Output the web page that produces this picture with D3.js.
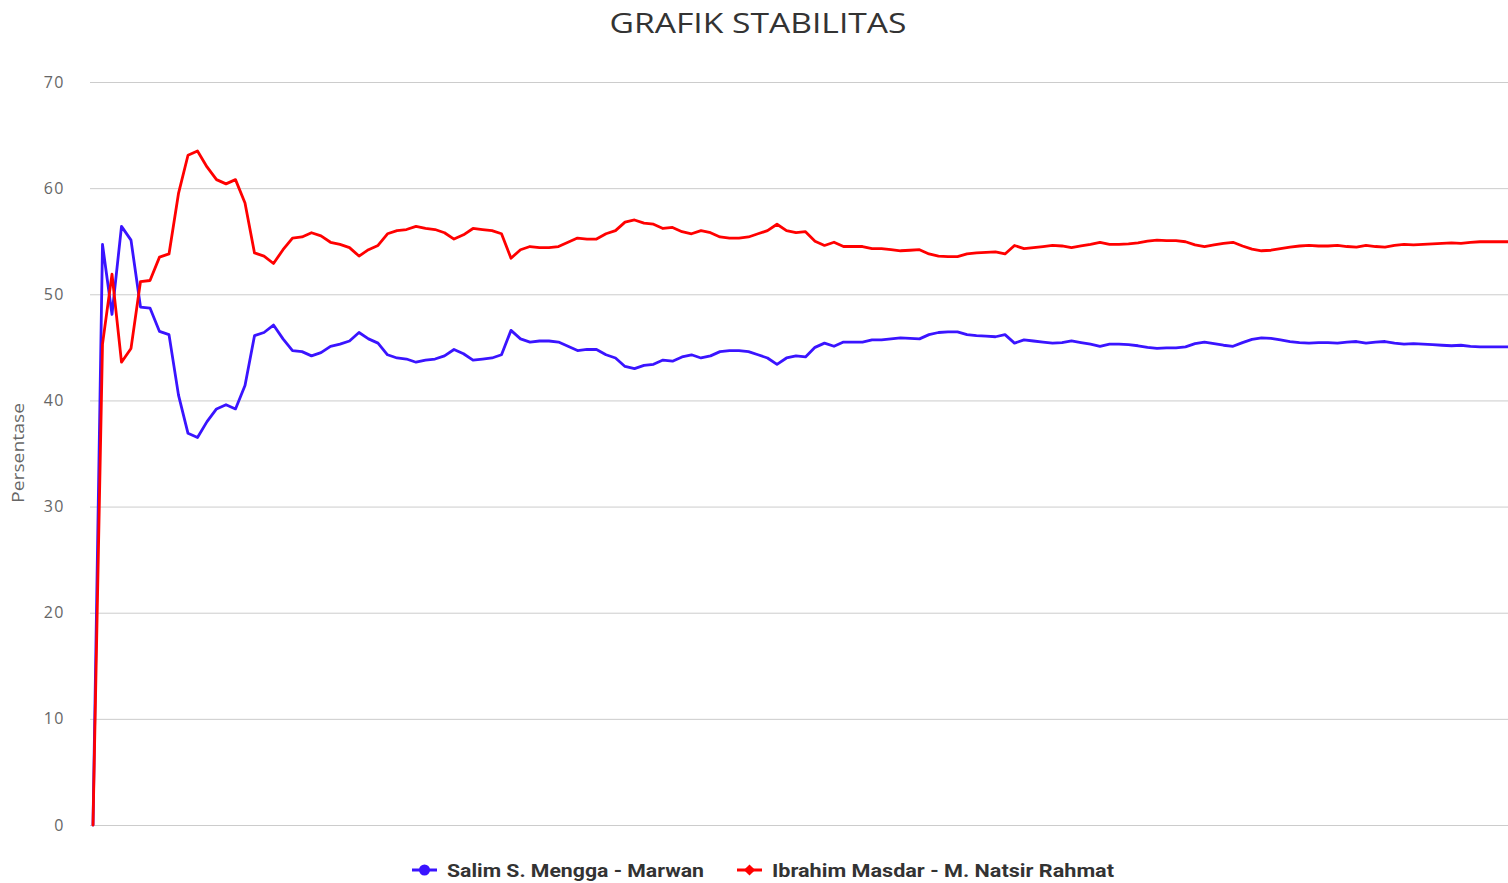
<!DOCTYPE html>
<html>
<head>
<meta charset="utf-8">
<script src="https://cdnjs.cloudflare.com/ajax/libs/d3/7.8.5/d3.min.js"></script>
<style>
  body { margin: 0; background: #fff; }
  svg { display: block; }
</style>
</head>
<body>
<div id="chart"></div>
<script>
// Chart values
const title = "GRAFIK STABILITAS";
const yLabel = "Persentase";
const yTicks = [0, 10, 20, 30, 40, 50, 60, 70];
const seriesNames = ["Salim S. Mengga - Marwan", "Ibrahim Masdar - M. Natsir Rahmat"];

const salim = [0, 54.7, 48.1, 56.4, 55.1, 48.8, 48.7, 46.5, 46.2, 40.5,
  36.9, 36.5, 38.0, 39.2, 39.6, 39.2, 41.4, 46.1, 46.4, 47.1,
  45.8, 44.7, 44.6, 44.2, 44.5, 45.1, 45.3, 45.6, 46.4, 45.8,
  45.4, 44.3, 44.0, 43.9, 43.6, 43.8, 43.9, 44.2, 44.8, 44.4,
  43.8, 43.9, 44.0, 44.3, 46.6, 45.8, 45.5, 45.6, 45.6, 45.5,
  45.1, 44.7, 44.8, 44.8, 44.3, 44.0, 43.2, 43.0, 43.3, 43.4,
  43.8, 43.7, 44.1, 44.3, 44.0, 44.2, 44.6, 44.7, 44.7, 44.6,
  44.3, 44.0, 43.4, 44.0, 44.2, 44.1, 45.0, 45.4, 45.1, 45.5,
  45.5, 45.5, 45.7, 45.7, 45.8, 45.9, 45.85, 45.8, 46.2, 46.4,
  46.45, 46.45, 46.2, 46.1, 46.05, 46.0, 46.2, 45.4, 45.7, 45.6,
  45.5, 45.4, 45.45, 45.6, 45.45, 45.3, 45.1, 45.3, 45.3, 45.25,
  45.15, 45.0, 44.9, 44.95, 44.95, 45.05, 45.35, 45.5, 45.35, 45.2,
  45.1, 45.45, 45.75, 45.9, 45.85, 45.7, 45.55, 45.45, 45.4, 45.45,
  45.45, 45.4, 45.5, 45.55, 45.4, 45.5, 45.55, 45.4, 45.3, 45.35,
  45.3, 45.25, 45.2, 45.15, 45.2, 45.1, 45.05, 45.05, 45.05, 45.05];

const ibrahim = [0, 45.3, 51.9, 43.6, 44.9, 51.2, 51.3, 53.5, 53.8, 59.5,
  63.1, 63.5, 62.0, 60.8, 60.4, 60.8, 58.6, 53.9, 53.6, 52.9,
  54.2, 55.3, 55.4, 55.8, 55.5, 54.9, 54.7, 54.4, 53.6, 54.2,
  54.6, 55.7, 56.0, 56.1, 56.4, 56.2, 56.1, 55.8, 55.2, 55.6,
  56.2, 56.1, 56.0, 55.7, 53.4, 54.2, 54.5, 54.4, 54.4, 54.5,
  54.9, 55.3, 55.2, 55.2, 55.7, 56.0, 56.8, 57.0, 56.7, 56.6,
  56.2, 56.3, 55.9, 55.7, 56.0, 55.8, 55.4, 55.3, 55.3, 55.4,
  55.7, 56.0, 56.6, 56.0, 55.8, 55.9, 55.0, 54.6, 54.9, 54.5,
  54.5, 54.5, 54.3, 54.3, 54.2, 54.1, 54.15, 54.2, 53.8, 53.6,
  53.55, 53.55, 53.8, 53.9, 53.95, 54.0, 53.8, 54.6, 54.3, 54.4,
  54.5, 54.6, 54.55, 54.4, 54.55, 54.7, 54.9, 54.7, 54.7, 54.75,
  54.85, 55.0, 55.1, 55.05, 55.05, 54.95, 54.65, 54.5, 54.65, 54.8,
  54.9, 54.55, 54.25, 54.1, 54.15, 54.3, 54.45, 54.55, 54.6, 54.55,
  54.55, 54.6, 54.5, 54.45, 54.6, 54.5, 54.45, 54.6, 54.7, 54.65,
  54.7, 54.75, 54.8, 54.85, 54.8, 54.9, 54.95, 54.95, 54.95, 54.95];

const colors = ["#3a14ff", "#ff0000"];

const width = 1508, height = 883;
const margin = { top: 82, right: 0, bottom: 58, left: 90 };

const svg = d3.select("#chart")
    .append("svg")
    .attr("width", width)
    .attr("height", height)
    .style("font-family", "'Open Sans', sans-serif");

svg.append("rect").attr("width", width).attr("height", height).attr("fill", "#fff");

// scales
const x = d3.scaleLinear()
    .domain([0, salim.length - 1])
    .range([margin.left + 3, width + 0.5]);

const y = d3.scaleLinear()
    .domain([0, 70])
    .range([height - margin.bottom, margin.top]);

// title
svg.append("text")
    .attr("x", 758)
    .attr("y", 33)
    .attr("text-anchor", "middle")
    .attr("font-size", 28)
    .attr("fill", "#333")
    .attr("textLength", 297)
    .attr("lengthAdjust", "spacingAndGlyphs")
    .text(title);

// y axis with gridlines
const yAxis = svg.append("g")
    .attr("transform", `translate(${margin.left},0)`)
    .call(d3.axisLeft(y)
        .tickValues(yTicks)
        .tickSize(-(width - margin.left))
        .tickPadding(25));

yAxis.select(".domain").remove();
yAxis.selectAll(".tick line")
    .attr("stroke", "#cccccc")
    .attr("stroke-width", 1);
yAxis.selectAll(".tick text")
    .attr("fill", "#666")
    .attr("font-size", 16)
    .attr("letter-spacing", 1.5)
    .style("font-family", "'Open Sans', sans-serif");

// y axis title
svg.append("text")
    .attr("transform", "translate(24,453) rotate(-90)")
    .attr("text-anchor", "middle")
    .attr("font-size", 16)
    .attr("fill", "#666")
    .attr("textLength", 100)
    .attr("lengthAdjust", "spacingAndGlyphs")
    .text(yLabel);

// lines
const line = d3.line()
    .x((d, i) => x(i))
    .y(d => y(d));

svg.append("clipPath").attr("id", "plot-clip")
    .append("rect")
    .attr("x", margin.left).attr("y", 0)
    .attr("width", width - margin.left).attr("height", height);

const plot = svg.append("g").attr("clip-path", "url(#plot-clip)");

[salim, ibrahim].forEach((data, k) => {
    plot.append("path")
        .datum(data)
        .attr("fill", "none")
        .attr("stroke", colors[k])
        .attr("stroke-width", 2.8)
        .attr("stroke-linejoin", "round")
        .attr("stroke-linecap", "round")
        .attr("d", line);
});

// legend
const legendItems = [
    { name: seriesNames[0], color: colors[0], x: 412, textX: 447, textW: 257, marker: "circle" },
    { name: seriesNames[1], color: colors[1], x: 737, textX: 772, textW: 342, marker: "diamond" }
];
const legendY = 870;

const legend = svg.append("g");
legendItems.forEach(item => {
    const g = legend.append("g");
    g.append("line")
        .attr("x1", item.x).attr("x2", item.x + 25)
        .attr("y1", legendY).attr("y2", legendY)
        .attr("stroke", item.color)
        .attr("stroke-width", 3);
    if (item.marker === "circle") {
        g.append("circle")
            .attr("cx", item.x + 12.5).attr("cy", legendY)
            .attr("r", 5.5)
            .attr("fill", item.color);
    } else {
        g.append("path")
            .attr("d", d3.symbol(d3.symbolDiamond2, 80)())
            .attr("transform", `translate(${item.x + 12.5},${legendY})`)
            .attr("fill", item.color);
    }
    g.append("text")
        .attr("x", item.textX)
        .attr("y", legendY + 7)
        .attr("font-size", 19)
        .attr("font-weight", "bold")
        .attr("fill", "#333")
        .attr("textLength", item.textW)
        .attr("lengthAdjust", "spacingAndGlyphs")
        .style("font-family", "'Liberation Sans Narrow', 'Roboto', sans-serif")
        .text(item.name);
});
</script>
</body>
</html>
